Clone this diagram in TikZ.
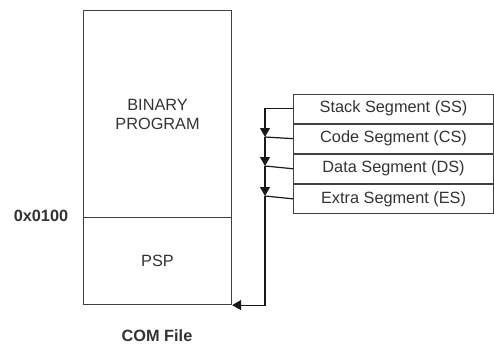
\documentclass[tikz,border=0pt]{standalone}
\usepackage{fontspec}
\setmainfont{Liberation Sans}
\usetikzlibrary{arrows.meta}
\begin{document}
\begin{tikzpicture}[x=1pt,y=-1pt, font=\fontsize{16.3}{19}\selectfont,
  box/.style={draw=black!75, line width=1.1pt, inner sep=0pt, text=black!80},
  seg/.style={box, minimum width=200pt, minimum height=29pt, anchor=north west},
  conn/.style={draw=black!90, line width=1.2pt},
  tip/.style={-{Triangle[length=9pt,width=10pt]}},
  lbl/.style={text=black!80, font=\fontsize{16.3}{19}\selectfont\bfseries}]
\useasboundingbox (0,0) rectangle (494,346);
% COM file layout
\node[box, minimum width=148pt, minimum height=207pt, anchor=north west, align=center] (bin) at (83,10) {BINARY\\PROGRAM};
\node[box, minimum width=148pt, minimum height=87pt, anchor=north west] (psp) at (83,217) {PSP};
\node[lbl] (addr) at (41,216) {0x0100};
\node[lbl] (cap) at (157,336) {COM File};
% segment registers
\node[seg] (ss) at (293,93.5) {Stack Segment (SS)};
\node[seg] (cs) at (ss.south west) {Code Segment (CS)};
\node[seg] (ds) at (cs.south west) {Data Segment (DS)};
\node[seg] (es) at (ds.south west) {Extra Segment (ES)};
% junctions on the bus line
\coordinate (j1) at (265,137);
\coordinate (j2) at (265,166);
\coordinate (j3) at (265,196);
% connectors
\draw[conn,tip] (ss.west) -| (j1);
\draw[conn] (cs.west) -- (j1);
\draw[conn,tip] (j1) -- (j2);
\draw[conn] (ds.west) -- (j2);
\draw[conn,tip] (j2) -- (j3);
\draw[conn] (es.west) -- (j3);
\draw[conn,tip] (j3) |- (psp.south east);
\end{tikzpicture}
\end{document}
